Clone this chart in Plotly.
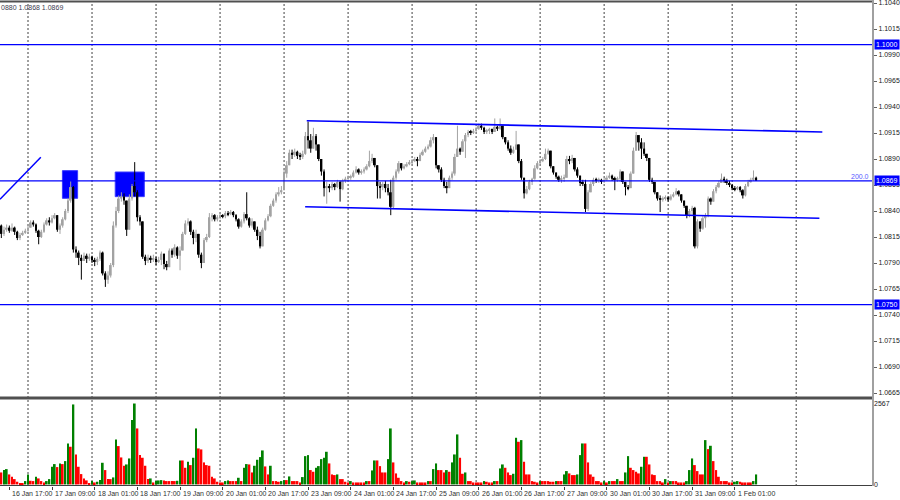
import plotly.graph_objects as go

# ---------------- DATA (hourly EURUSD, 16 Jan 14:00 -> 1 Feb 09:00) ----------------
BASE = 1.0800          # prices below are stored as pips above 1.0800
PIP = 0.0001
first_open_pips = 26

close_pips = [
    18, 22, 24, 21, 24, 20, 14, 17, 19, 21,
    24, 29, 27, 21, 15, 20, 27, 31, 29, 33,
    36, 22, 26, 32, 40, 50, 63, 3, 0, -5,
    -8, -3, -6, -4, -7, -9, -6, 0, -20, -26,
    -22, -12, 26, 40, 52, 54, 50, 22, 52, 64,
    58, 34, 30, -4, -8, -5, -7, -6, -9, -7,
    -1, -11, -14, 2, -2, 5, -3, 2, 18, 28,
    30, 20, 14, 18, -2, -10, 12, 15, 34, 36,
    32, 34, 36, 35, 38, 37, 39, 36, 32, 25,
    30, 37, 33, 26, 30, 22, 16, 6, 22, 31,
    35, 45, 50, 56, 58, 60, 76, 84, 96, 94,
    97, 93, 92, 95, 112, 108, 100, 112, 104, 90,
    78, 62, 64, 62, 66, 63, 68, 61, 69, 71,
    72, 73, 77, 80, 77, 78, 80, 83, 88, 91,
    84, 64, 63, 66, 62, 58, 44, 72, 78, 86,
    81, 83, 85, 87, 88, 90, 88, 94, 97, 100,
    102, 108, 111, 84, 80, 70, 64, 62, 72, 76,
    92, 100, 97, 107, 113, 116, 115, 117, 119, 122,
    120, 116, 117, 119, 116, 121, 119, 122, 111, 106,
    100, 96, 99, 104, 88, 72, 57, 61, 68, 71,
    81, 86, 88, 90, 95, 98, 83, 77, 73, 70,
    71, 72, 90, 88, 91, 80, 74, 67, 66, 42,
    58, 66, 70, 69, 70, 68, 70, 72, 74, 71,
    70, 71, 78, 68, 63, 62, 76, 98, 113, 106,
    100, 95, 91, 70, 68, 58, 52, 51, 52, 53,
    51, 54, 56, 59, 56, 50, 45, 36, 40, 43,
    6, 30, 23, 33, 36, 52, 49, 59, 63, 67,
    71, 69, 67, 65, 62, 61, 63, 60, 55, 64,
    68, 70, 72, 69,
]

high_pips = [
    27, 25, 27, 26, 28, 25, 21, 19, 21, 23,
    26, 31, 31, 28, 22, 22, 29, 33, 34, 36,
    38, 36, 28, 34, 42, 52, 69, 64, 6, 2,
    -2, 0, -1, -1, -3, -5, -4, 2, 1, -18,
    -18, -10, 30, 44, 55, 58, 57, 50, 56, 66,
    87, 60, 36, 30, -2, -2, -3, -2, -4, -4,
    1, -1, -8, 4, 4, 8, 6, 6, 20, 31,
    33, 31, 22, 22, 18, 0, 14, 18, 38, 38,
    37, 36, 38, 37, 40, 40, 41, 40, 37, 33,
    32, 39, 58, 34, 33, 30, 25, 20, 24, 33,
    37, 47, 52, 58, 63, 64, 80, 88, 99, 99,
    100, 98, 96, 98, 116, 126, 114, 120, 114, 104,
    90, 80, 68, 66, 68, 67, 70, 69, 71, 73,
    74, 75, 79, 83, 81, 80, 82, 85, 98, 95,
    91, 84, 68, 68, 69, 66, 70, 74, 80, 88,
    86, 85, 87, 89, 90, 92, 92, 96, 99, 102,
    104, 111, 114, 110, 84, 82, 72, 68, 74, 78,
    95, 122, 101, 109, 115, 118, 118, 119, 121, 124,
    124, 121, 119, 120, 119, 129, 122, 129, 122, 111,
    108, 103, 102, 117, 104, 90, 72, 64, 70, 72,
    84, 88, 90, 92, 100, 100, 97, 83, 77, 74,
    74, 75, 93, 93, 94, 88, 82, 74, 70, 70,
    60, 68, 72, 72, 72, 71, 72, 74, 77, 75,
    73, 73, 80, 78, 68, 65, 78, 101, 116, 113,
    110, 106, 94, 90, 72, 66, 58, 55, 54, 55,
    54, 56, 58, 62, 60, 56, 50, 45, 42, 45,
    44, 32, 28, 35, 38, 54, 53, 61, 65, 69,
    76, 73, 71, 69, 66, 64, 64, 64, 61, 66,
    70, 72, 79, 73,
]

low_pips = [
    14, 16, 20, 19, 20, 17, 12, 12, 16, 18,
    20, 24, 25, 19, 8, 14, 19, 26, 26, 28,
    32, 20, 18, 24, 31, 38, 48, 0, -5, -12,
    -26, -8, -10, -8, -10, -13, -12, -8, -22, -33,
    -30, -24, -14, 24, 38, 49, 46, 16, 22, 50,
    54, 30, 26, -6, -12, -10, -10, -9, -12, -10,
    -12, -16, -17, -12, -5, -4, -6, -17, 2, 17,
    26, 17, 8, 10, -5, -15, -10, 10, 14, 30,
    30, 30, 32, 33, 33, 35, 36, 34, 30, 23,
    24, 28, 31, 24, 24, 20, 12, 4, 6, 21,
    30, 34, 44, 48, 54, 56, 60, 72, 84, 90,
    92, 90, 89, 90, 94, 100, 96, 100, 98, 88,
    74, 54, 47, 58, 60, 60, 62, 49, 60, 67,
    68, 70, 72, 76, 75, 75, 76, 79, 82, 86,
    82, 52, 52, 60, 58, 55, 36, 42, 70, 76,
    79, 80, 82, 84, 85, 87, 83, 88, 93, 96,
    99, 101, 105, 81, 77, 68, 62, 57, 64, 70,
    74, 93, 94, 97, 91, 111, 113, 114, 116, 118,
    118, 114, 114, 114, 114, 116, 117, 118, 109, 104,
    98, 94, 95, 99, 86, 70, 52, 56, 60, 65,
    70, 80, 85, 87, 89, 94, 81, 75, 71, 68,
    67, 68, 72, 85, 86, 78, 72, 64, 64, 39,
    40, 58, 64, 67, 67, 66, 67, 69, 71, 69,
    60, 68, 68, 66, 55, 60, 62, 76, 98, 98,
    90, 93, 88, 68, 66, 56, 50, 39, 49, 50,
    49, 50, 53, 55, 54, 48, 43, 33, 34, 36,
    4, 4, 20, 22, 24, 34, 46, 50, 57, 62,
    68, 67, 65, 63, 60, 59, 60, 58, 52, 54,
    63, 67, 69, 69,
]

volume = [
    380, 455, 486, 317, 243, 169, 85, 32, 20, 106,
    317, 116, 106, 243, 190, 106, 63, 106, 169, 560,
    645, 550, 666, 645, 740, 1300, 1195, 2537, 951, 560,
    328, 190, 127, 32, 106, 63, 85, 137, 687, 455,
    169, 169, 222, 1427, 1216, 856, 592, 634, 824, 2040,
    2567, 1776, 930, 846, 592, 169, 190, 63, 106, 127,
    137, 127, 106, 106, 106, 106, 116, 761, 761, 528,
    719, 613, 846, 1776, 1142, 1110, 698, 613, 592, 243,
    190, 85, 63, 63, 106, 127, 106, 106, 106, 211,
    106, 528, 645, 634, 380, 592, 782, 867, 1078, 571,
    317, 592, 106, 106, 85, 106, 137, 137, 254, 106,
    106, 106, 63, 233, 898, 930, 455, 402, 528, 581,
    803, 846, 1036, 666, 317, 296, 317, 169, 169, 85,
    63, 106, 63, 63, 63, 63, 63, 106, 106, 444,
    761, 761, 581, 380, 380, 803, 1776, 698, 349, 211,
    106, 63, 106, 85, 106, 127, 63, 63, 63, 63,
    106, 106, 486, 666, 455, 455, 380, 455, 402, 698,
    951, 1586, 846, 338, 380, 106, 106, 63, 63, 63,
    63, 106, 85, 63, 63, 106, 106, 507, 634, 528,
    380, 296, 338, 1480, 1353, 1406, 719, 317, 317, 106,
    85, 63, 106, 106, 106, 106, 85, 85, 106, 106,
    106, 317, 423, 349, 296, 296, 317, 930, 1300, 1300,
    698, 317, 243, 106, 106, 63, 106, 63, 106, 106,
    106, 169, 106, 106, 380, 898, 528, 455, 402, 349,
    560, 877, 877, 634, 317, 296, 106, 106, 63, 169,
    63, 106, 106, 106, 63, 63, 63, 106, 455, 824,
    613, 423, 317, 317, 1406, 1120, 1226, 740, 455, 243,
    106, 106, 106, 63, 63, 85, 106, 85, 63, 63,
    63, 63, 106, 317,
]

price_ticks = [1.1040, 1.1015, 1.0990, 1.0965, 1.0940, 1.0915, 1.0890, 1.0865,
               1.0840, 1.0815, 1.0790, 1.0765, 1.0740, 1.0715, 1.0690, 1.0665]
volume_ticks = [0, 2567]

date_label_index = [3, 19, 35, 51, 67, 83, 99, 115, 131, 147, 163, 179, 195, 211, 227, 243, 259, 275]
date_labels = ["16 Jan 17:00", "17 Jan 09:00", "18 Jan 01:00", "18 Jan 17:00", "19 Jan 09:00",
               "20 Jan 01:00", "20 Jan 17:00", "23 Jan 09:00", "24 Jan 01:00", "24 Jan 17:00",
               "25 Jan 09:00", "26 Jan 01:00", "26 Jan 17:00", "27 Jan 09:00", "30 Jan 01:00",
               "30 Jan 17:00", "31 Jan 09:00", "1 Feb 01:00"]
day_start_index = [10, 34, 58, 82, 106, 130, 154, 178, 202, 226, 250, 274, 298]

level_prices = [1.1000, 1.0869, 1.0750]
level_labels = ["1.1000", "1.0869", "1.0750"]

channel_upper_x = [114.5, 307.8]
channel_upper_y = [1.09268, 1.09160]
channel_lower_x = [113.9, 306.7]
channel_lower_y = [1.08441, 1.08330]
diag_x = [-0.5, 14.8]
diag_y = [1.08513, 1.08916]
box_x0 = [22.9, 42.7]
box_x1 = [28.6, 53.6]
box_y0 = [1.08522, 1.08538]
box_y1 = [1.08788, 1.08775]

header_text = "0880 1.0868 1.0869"

# ---------------- BUILD ----------------
n = len(close_pips)
assert len(high_pips) == n and len(low_pips) == n and len(volume) == n, (n, len(high_pips), len(low_pips), len(volume))
idx = list(range(n))
close_p = [BASE + c * PIP for c in close_pips]
open_p = [BASE + first_open_pips * PIP] + close_p[:-1]
high_p = [max(BASE + h * PIP, o, c) for h, o, c in zip(high_pips, open_p, close_p)]
low_p = [min(BASE + l * PIP, o, c) for l, o, c in zip(low_pips, open_p, close_p)]

UP = "#a3a3a3"
DOWN = "#000000"
BLUE = "#0000ff"

fig = go.Figure()

# wicks
for up in (True, False):
    xs, ys = [], []
    for i in idx:
        if (close_p[i] >= open_p[i]) == up:
            xs += [i, i, None]
            ys += [low_p[i], high_p[i], None]
    fig.add_trace(go.Scatter(x=xs, y=ys, mode="lines", line=dict(color=UP if up else DOWN, width=1),
                             hoverinfo="skip", showlegend=False, yaxis="y", xaxis="x"))

# bodies
body_base = [min(o, c) for o, c in zip(open_p, close_p)]
body_h = [max(abs(c - o), 0.00008) for o, c in zip(open_p, close_p)]
body_col = [UP if c >= o else DOWN for o, c in zip(open_p, close_p)]
fig.add_trace(go.Bar(x=idx, y=body_h, base=body_base, width=0.72, marker=dict(color=body_col, line=dict(width=0)),
                     showlegend=False, yaxis="y", xaxis="x"))

# volumes (MT4 style: green if volume rises vs previous bar, red otherwise)
vcol = ["#008000" if i > 0 and volume[i] > volume[i - 1] else "#ff0000" for i in idx]
vcol[0] = "#ff0000"
fig.add_trace(go.Bar(x=idx, y=volume, width=0.72, marker=dict(color=vcol, line=dict(width=0)),
                     showlegend=False, yaxis="y2", xaxis="x"))

shapes = []
# day separators
for d in day_start_index:
    shapes.append(dict(type="line", xref="x", yref="paper", x0=d, x1=d, y0=0, y1=1,
                       line=dict(color="#404040", width=1, dash="2px,2px"), layer="below"))
# blue boxes
for x0, x1, y0, y1 in zip(box_x0, box_x1, box_y0, box_y1):
    shapes.append(dict(type="rect", xref="x", yref="y", x0=x0, x1=x1, y0=y0, y1=y1,
                       fillcolor=BLUE, line=dict(color="#3a3aff", width=1), layer="below"))
# horizontal levels
for lv in level_prices:
    shapes.append(dict(type="line", xref="paper", yref="y", x0=0, x1=1, y0=lv, y1=lv,
                       line=dict(color=BLUE, width=1.2)))
# channel + diagonal
shapes.append(dict(type="line", xref="x", yref="y", x0=channel_upper_x[0], x1=channel_upper_x[1],
                   y0=channel_upper_y[0], y1=channel_upper_y[1], line=dict(color=BLUE, width=1.6)))
shapes.append(dict(type="line", xref="x", yref="y", x0=channel_lower_x[0], x1=channel_lower_x[1],
                   y0=channel_lower_y[0], y1=channel_lower_y[1], line=dict(color=BLUE, width=1.6)))
shapes.append(dict(type="line", xref="x", yref="y", x0=diag_x[0], x1=diag_x[1],
                   y0=diag_y[0], y1=diag_y[1], line=dict(color=BLUE, width=1.5)))
# frame lines
H = 484.0
def pf(ypx):
    return (486.0 - ypx) / H
shapes.append(dict(type="line", xref="paper", yref="paper", x0=0, x1=1, y0=pf(1.5), y1=pf(1.5),
                   line=dict(color="#505050", width=2)))
shapes.append(dict(type="line", xref="paper", yref="paper", x0=0, x1=1, y0=pf(398), y1=pf(398),
                   line=dict(color="#505050", width=3)))
shapes.append(dict(type="line", xref="paper", yref="paper", x0=0, x1=1, y0=pf(485.5), y1=pf(485.5),
                   line=dict(color="#404040", width=1)))
shapes.append(dict(type="line", xref="paper", yref="paper", x0=1, x1=1, y0=pf(486), y1=pf(0),
                   line=dict(color="#a0a0a0", width=2)))

FONT = "Liberation Sans"
annotations = []
for i, t in zip(date_label_index, date_labels):
    annotations.append(dict(x=i, y=pf(493), xref="x", yref="paper", text=t, showarrow=False,
                            xanchor="left", yanchor="middle", xshift=1,
                            font=dict(family=FONT, size=7, color="#303030")))
for lv, t in zip(level_prices, level_labels):
    annotations.append(dict(x=1, y=lv, xref="paper", yref="y", text=t, showarrow=False,
                            xanchor="left", yanchor="middle", xshift=1, bgcolor=BLUE, borderpad=1,
                            font=dict(family=FONT, size=7, color="#ffffff")))
annotations.append(dict(x=1, y=1.0869, xref="paper", yref="y", text="200.0", showarrow=False,
                        xanchor="right", yanchor="bottom", xshift=-2, yshift=-1,
                        font=dict(family=FONT, size=7, color="#5a5aff")))
annotations.append(dict(x=0, y=pf(7), xref="paper", yref="paper", text=header_text, showarrow=False,
                        xanchor="left", yanchor="middle", xshift=-1,
                        font=dict(family=FONT, size=7, color="#404050")))

fig.update_layout(
    width=900, height=500,
    margin=dict(l=0, r=27, t=2, b=14, pad=0, autoexpand=False),
    paper_bgcolor="#ffffff", plot_bgcolor="#ffffff",
    barmode="overlay", showlegend=False, hovermode=False,
    shapes=shapes, annotations=annotations,
    xaxis=dict(range=[-0.5, 326.8], anchor="y2", showgrid=False, zeroline=False, showline=False,
               tickvals=date_label_index, ticks="outside", ticklen=3, tickcolor="#404040",
               showticklabels=False, fixedrange=True, automargin=False),
    yaxis=dict(domain=[pf(397), 1.0], range=[1.066115, 1.104096], side="right", anchor="x",
               showgrid=False, zeroline=False, showline=False, automargin=False,
               tickvals=price_ticks, ticktext=["%.4f" % v for v in price_ticks],
               ticks="outside", ticklen=3, tickcolor="#606060", ticklabeloverflow="allow",
               tickfont=dict(family=FONT, size=7, color="#202020")),
    yaxis2=dict(domain=[0, pf(399)], range=[-50, 2710], side="right", anchor="x",
                showgrid=False, zeroline=False, showline=False, automargin=False,
                tickvals=volume_ticks, ticktext=[str(v) for v in volume_ticks], ticks="",
                ticklabeloverflow="allow",
                tickfont=dict(family=FONT, size=7, color="#202020")),
)

fig.write_html("out.html", config={"displayModeBar": False},
               post_script="document.body.style.margin='0';document.body.style.overflow='hidden';")
